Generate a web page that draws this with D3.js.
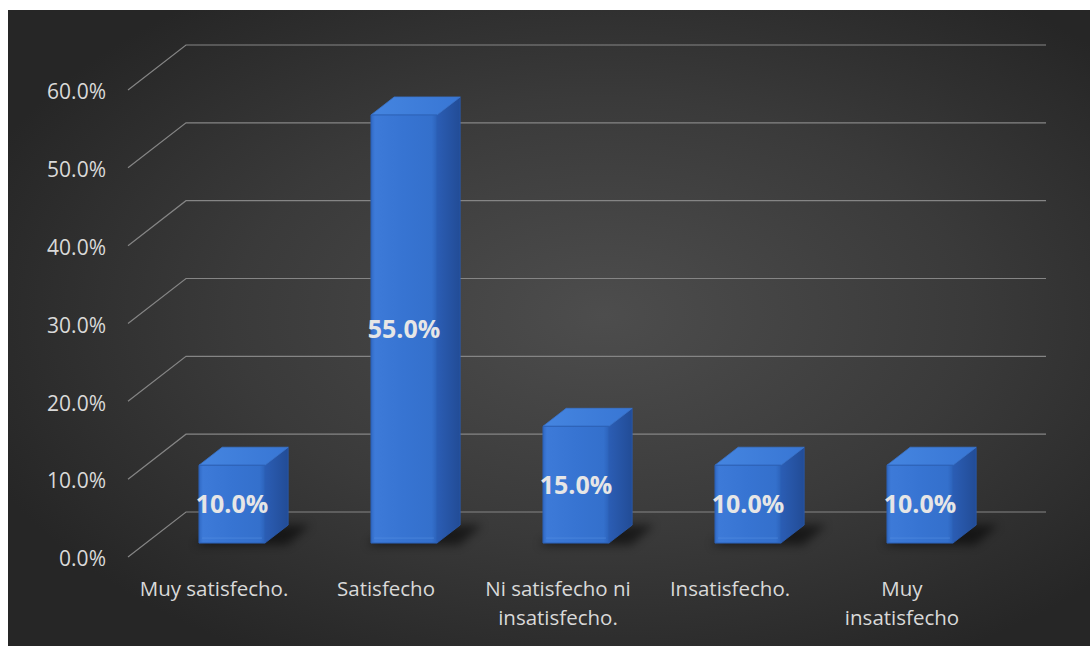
<!DOCTYPE html>
<html>
<head>
<meta charset="utf-8">
<script src="https://cdn.jsdelivr.net/npm/d3@7"></script>
<style>
  body { margin: 0; background: #ffffff; }
  text { font-family: "Open Sans", "Noto Sans", sans-serif; }
</style>
</head>
<body>
<svg id="chart" width="1090" height="646"></svg>
<script>
// Survey results: level of satisfaction
const categories = ["Muy satisfecho.", "Satisfecho", "Ni satisfecho ni\ninsatisfecho.", "Insatisfecho.", "Muy\ninsatisfecho"];
const values = [0.10, 0.55, 0.15, 0.10, 0.10];
const tickValues = [0, 0.1, 0.2, 0.3, 0.4, 0.5, 0.6];

const svg = d3.select("#chart");
const W = 1090, H = 646;

// 3D projection: depth vector going back into the chart
const DX = 58, DY = -45;
const project = (xf, yf, d) => [xf + d * DX, yf + d * DY];

const x = d3.scaleBand().domain(categories).range([128, 988]);
const y = d3.scaleLinear().domain([0, 0.6]).range([557, 90]);

const defs = svg.append("defs");

// Chart area background
const bg = defs.append("radialGradient").attr("id", "bg")
  .attr("cx", "55%").attr("cy", "48%").attr("r", "62%");
bg.append("stop").attr("offset", "0%").attr("stop-color", "#4d4d4d");
bg.append("stop").attr("offset", "55%").attr("stop-color", "#3a3a3a");
bg.append("stop").attr("offset", "100%").attr("stop-color", "#262626");

function linGrad(id, stops, x2 = "100%", y2 = "0%") {
  const g = defs.append("linearGradient").attr("id", id)
    .attr("x1", "0%").attr("y1", "0%").attr("x2", x2).attr("y2", y2);
  stops.forEach(([o, c]) => g.append("stop").attr("offset", o).attr("stop-color", c));
}
linGrad("front", [["0%", "#3069c4"], ["6%", "#3d7ad8"], ["50%", "#3774d2"], ["92%", "#3470cc"], ["100%", "#2c62ba"]]);
linGrad("top", [["0%", "#4585e0"], ["100%", "#3876d4"]]);
linGrad("side", [["0%", "#2b5db4"], ["100%", "#224c96"]]);

defs.append("filter").attr("id", "shadowBlur")
  .attr("x", "-50%").attr("y", "-50%").attr("width", "200%").attr("height", "200%")
  .append("feGaussianBlur").attr("stdDeviation", 5);

svg.append("rect").attr("x", 8).attr("y", 10).attr("width", W - 8).attr("height", H - 10)
  .attr("fill", "url(#bg)");

// Gridlines: diagonal on the side wall plus horizontal on the back wall
const x0 = x.range()[0], x1 = x.range()[1];
svg.append("g").selectAll("path").data(tickValues).join("path")
  .attr("d", t => {
    const a = [x0, y(t)], b = project(x0, y(t), 1), c = project(x1, y(t), 1);
    return `M${a}L${b}L${c}`;
  })
  .attr("fill", "none").attr("stroke", "#858585").attr("stroke-width", 1.2);

// Value axis labels
const yAxis = svg.append("g").attr("transform", "translate(106,0)")
  .call(d3.axisLeft(y).tickValues(tickValues).tickFormat(d3.format(".1%")).tickSize(0).tickPadding(0));
yAxis.select(".domain").remove();
yAxis.selectAll("text").attr("fill", "#d9d9d9").style("font-size", "21px")
  .attr("dy", "0.42em");

// Bars
const halfW = 33, d0 = 0.31, d1 = 0.71;
const bars = svg.append("g").selectAll("g").data(categories.map((c, i) => ({ c, v: values[i] }))).join("g");
const cxOf = d => x(d.c) + x.bandwidth() / 2;
const poly = pts => "M" + pts.map(p => p.join(",")).join("L") + "Z";

// floor shadow
bars.append("path")
  .attr("d", d => {
    const cx = cxOf(d), y0 = y(0);
    return poly([project(cx - halfW - 4, y0 + 2, d0), project(cx + halfW + 22, y0 + 2, d0),
                 project(cx + halfW + 22, y0, d1), project(cx - halfW, y0, d1)]);
  })
  .attr("fill", "#000").attr("opacity", 0.55).attr("filter", "url(#shadowBlur)");

bars.append("path").attr("class", "side")
  .attr("d", d => {
    const cx = cxOf(d);
    return poly([project(cx + halfW, y(d.v), d0), project(cx + halfW, y(d.v), d1),
                 project(cx + halfW, y(0), d1), project(cx + halfW, y(0), d0)]);
  })
  .attr("fill", "url(#side)").attr("stroke", "#2a5aae").attr("stroke-width", 0.8)
  .attr("stroke-linejoin", "round");

bars.append("path").attr("class", "top")
  .attr("d", d => {
    const cx = cxOf(d);
    return poly([project(cx - halfW, y(d.v), d0), project(cx - halfW, y(d.v), d1),
                 project(cx + halfW, y(d.v), d1), project(cx + halfW, y(d.v), d0)]);
  })
  .attr("fill", "url(#top)").attr("stroke", "#3a74cc").attr("stroke-width", 0.8)
  .attr("stroke-linejoin", "round");

bars.append("path").attr("class", "front")
  .attr("d", d => {
    const cx = cxOf(d);
    return poly([project(cx - halfW, y(d.v), d0), project(cx + halfW, y(d.v), d0),
                 project(cx + halfW, y(0), d0), project(cx - halfW, y(0), d0)]);
  })
  .attr("fill", "url(#front)").attr("stroke", "#2c61b6").attr("stroke-width", 1)
  .attr("stroke-linejoin", "round");

// subtle bevel line near the bottom of the front face
bars.append("path")
  .attr("d", d => {
    const cx = cxOf(d);
    const a = project(cx - halfW + 3, y(0) - 5, d0), b = project(cx + halfW - 3, y(0) - 5, d0);
    return `M${a}L${b}`;
  })
  .attr("stroke", "#5b95e6").attr("stroke-opacity", 0.5).attr("stroke-width", 1);

// Value labels
bars.append("text")
  .attr("x", d => cxOf(d) + d0 * DX)
  .attr("y", d => (y(d.v) + y(0)) / 2 + d0 * DY)
  .attr("text-anchor", "middle").attr("dy", "0.36em")
  .attr("fill", "#e6e6e6").style("font-size", "25px").style("font-weight", "bold")
  .text(d => d3.format(".1%")(d.v));

// Category axis labels
const xAxis = svg.append("g").attr("transform", "translate(0,576)")
  .call(d3.axisBottom(x).tickSize(0).tickPadding(0));
xAxis.select(".domain").remove();
xAxis.selectAll("text").each(function(d) {
  const t = d3.select(this).text(null).attr("fill", "#d9d9d9").style("font-size", "20.5px")
    .attr("dy", null).attr("y", 0);
  d.split("\n").forEach((line, i) => {
    t.append("tspan").attr("x", 0).attr("y", 20 + i * 29).text(line);
  });
});
</script>
</body>
</html>
